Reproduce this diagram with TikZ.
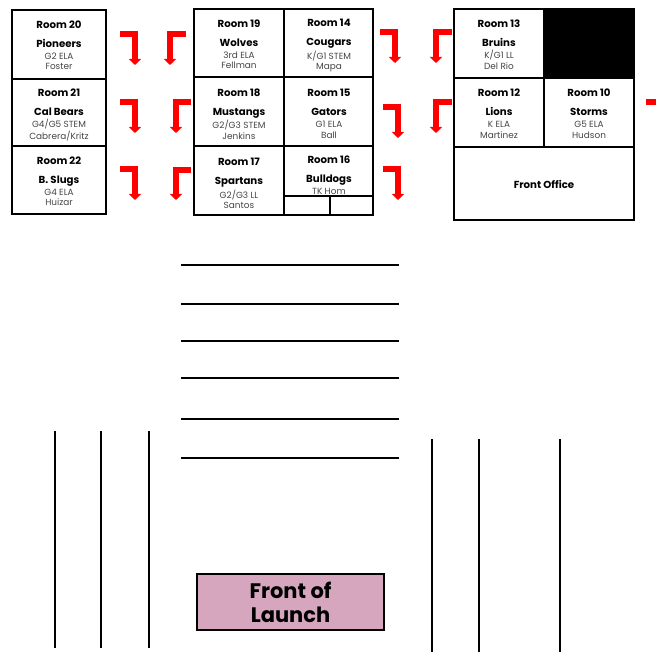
\documentclass[tikz,border=0pt]{standalone}
\usepackage{fontspec}
\setmainfont{Poppins}
\usetikzlibrary{arrows.meta}
\definecolor{lunchpink}{HTML}{D5A6BD}
\definecolor{teachergrey}{HTML}{444444}
\tikzset{
	wall/.style={draw=black, line width=2pt},
	rowline/.style={black, line width=2pt},
	redturn/.style={red, line width=6pt, -{Triangle[length=6pt, width=12pt]}},
	roomlabel/.style={align=center, font=\fontsize{8.9}{10.5}\selectfont},
}
\newcommand{\boldline}[1]{{\fontsize{10.2}{10.5}\selectfont\bfseries #1}}
\newcommand{\greyline}[1]{{\color{teachergrey}#1\strut}}
\newcommand{\roomtext}[6]{\node[roomlabel] (#1) at (#2) {\boldline{#3}\\[8.5pt]\boldline{#4}\\[1.5pt]\greyline{#5}\\\greyline{#6}};}
\begin{document}
\begin{tikzpicture}[x=1pt, y=-1pt]
		\useasboundingbox (0,0) rectangle (656,652);
		
		% left block
		\draw[wall] (12,10) rectangle (106,214);
		\draw[wall] (12,79) -- (106,79);
		\draw[wall] (12,146) -- (106,146);
		\roomtext{roomA}{59,47}{Room 20}{Pioneers}{G2 ELA}{Foster}
		\roomtext{roomB}{59,116}{Room 21}{Cal Bears}{G4/G5 STEM}{Cabrera/Kritz}
		\roomtext{roomC}{59,183}{Room 22}{B. Slugs}{G4 ELA}{Huizar}
		
		% middle block
		\draw[wall] (194,9) rectangle (373,215);
		\draw[wall] (284,9) -- (284,215);
		\draw[wall] (194,77.5) -- (373,77.5);
		\draw[wall] (194,146) -- (373,146);
		\draw[wall] (284,196.5) -- (373,196.5);
		\draw[wall] (329.5,196.5) -- (329.5,215);
		\roomtext{roomD}{239,46}{Room 19}{Wolves}{3rd ELA}{Fellman}
		\roomtext{roomE}{329,46}{Room 14}{Cougars}{K/G1 STEM}{Mapa}
		\roomtext{roomF}{239,115.5}{Room 18}{Mustangs}{G2/G3 STEM}{Jenkins}
		\roomtext{roomG}{329,115.5}{Room 15}{Gators}{G1 ELA}{Ball}
		\roomtext{roomH}{239,185}{Room 17}{Spartans}{G2/G3 LL}{Santos}
		\roomtext{roomI}{329,182}{Room 16}{Bulldogs}{TK Hom}{}
		
		% right block
		\filldraw[fill=black, draw=black] (544,9) rectangle (634,78.5);
		\draw[wall] (454,9) rectangle (634,220);
		\draw[wall] (544,9) -- (544,147);
		\draw[wall] (454,78.5) -- (634,78.5);
		\draw[wall] (454,147) -- (634,147);
		\roomtext{roomJ}{499,46.5}{Room 13}{Bruins}{K/G1 LL}{Del Rio}
		\roomtext{roomK}{499,115.5}{Room 12}{Lions}{K ELA}{Martinez}
		\roomtext{roomL}{589,115.5}{Room 10}{Storms}{G5 ELA}{Hudson}
		\node[roomlabel] (office) at (544,184) {\boldline{Front Office}};
		
		% red arrows
		\foreach \xa/\xb/\ya/\yb in {120/135/34.5/65, 120/135/102/133, 120/135/169/200,
			380/395/32/63, 383/398/107/138, 383/398/169/200,
			186/170/34.5/65, 191/176/102/133, 191/176/170/200,
			452/436/32/63, 452/436/102/133} {
			\draw[redturn] (\xa,\ya) -| (\xb,\yb);
		}
		\draw[red, line width=5.5pt] (646,102) -- (656,102);
		
		% rows of lunch tables
		\foreach \yy in {265,304,341,378,419,458} {
			\draw[rowline] (181,\yy) -- (399,\yy);
		}
		\foreach \xx/\ya/\yb in {55/431/648, 101/431/648, 149/431/648,
			432/439/652, 479/439/652, 560/439/652} {
			\draw[rowline] (\xx,\ya) -- (\xx,\yb);
		}
		
		\node[draw=black, line width=2pt, fill=lunchpink, minimum width=187pt, minimum height=56pt, align=center, font=\fontsize{21}{24}\selectfont\bfseries] (front) at (290.5,602) {Front of\\Launch};
		
	\end{tikzpicture}
\end{document}
